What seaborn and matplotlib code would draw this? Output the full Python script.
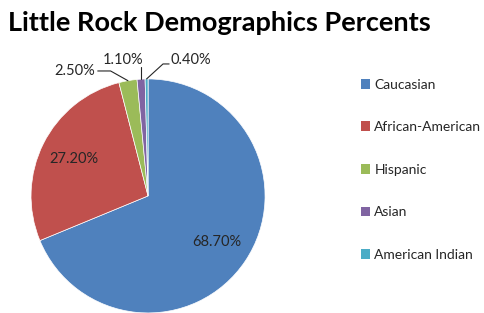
import numpy as np
import matplotlib
matplotlib.use("Agg")
import matplotlib.pyplot as plt
import seaborn as sns
from matplotlib.patches import Patch

groups = ["Caucasian", "African-American", "Hispanic", "Asian", "American Indian"]
percents = [68.70, 27.20, 2.50, 1.10, 0.40]
labels = ["68.70%", "27.20%", "2.50%", "1.10%", "0.40%"]
colors = ["#4F81BD", "#C0504D", "#9BBB59", "#8064A2", "#4BACC6"]

sns.set_style("white")
plt.rcParams['font.family'] = ['Lato', 'DejaVu Sans']

fig = plt.figure(figsize=(4.85, 3.13), dpi=100)
ax = fig.add_axes([0.064, 0.0, 0.4825, 0.748])

palette = sns.color_palette(colors)
wedges, _ = ax.pie(percents, colors=palette, startangle=90, counterclock=False,
                   radius=1, wedgeprops=dict(edgecolor="white", linewidth=0.5))
ax.set_xlim(-1, 1)
ax.set_ylim(-1, 1)
ax.set_aspect("equal")

txt = "#262626"
fs = 10.5

def mid_point(w, r):
    a = np.deg2rad((w.theta1 + w.theta2) / 2)
    return r * np.cos(a), r * np.sin(a)

# labels inside the big wedges
for w, lab in zip(wedges[:2], labels[:2]):
    x, y = mid_point(w, 0.71)
    ax.text(x, y, lab, ha="center", va="center", fontsize=fs, color=txt)

# small wedges: labels outside with leader lines
x, y = mid_point(wedges[2], 1.0)
ax.text(-0.625, 1.068, labels[2], ha="center", va="center", fontsize=fs,
        color=txt, clip_on=False)
ax.plot([-0.43, -0.32, x], [1.068, 1.068, y], color=txt, lw=0.8, clip_on=False)

x, y = mid_point(wedges[3], 1.0)
ax.text(-0.21, 1.162, labels[3], ha="center", va="center", fontsize=fs,
        color=txt, clip_on=False)
ax.plot([x, x], [y, 1.10], color=txt, lw=0.8, clip_on=False)

x, y = mid_point(wedges[4], 1.0)
ax.text(0.367, 1.162, labels[4], ha="center", va="center", fontsize=fs,
        color=txt, clip_on=False)
ax.plot([x, 0.128, 0.18], [y, 1.128, 1.128], color=txt, lw=0.8, clip_on=False)

fig.text(8 / 485, 1 - 31 / 313, "Little Rock Demographics Percents",
         fontsize=19.5, fontweight="bold", ha="left", va="baseline", color="black")

handles = [Patch(facecolor=c, edgecolor="none") for c in palette]
fig.legend(handles, groups, loc="upper left", bbox_to_anchor=(355 / 485, 1 - 73 / 313),
           frameon=False, fontsize=10, handlelength=0.7, handleheight=0.7,
           handletextpad=0.3, labelspacing=2.2, borderaxespad=0, labelcolor=txt)

fig.savefig("out.png", dpi=100)
